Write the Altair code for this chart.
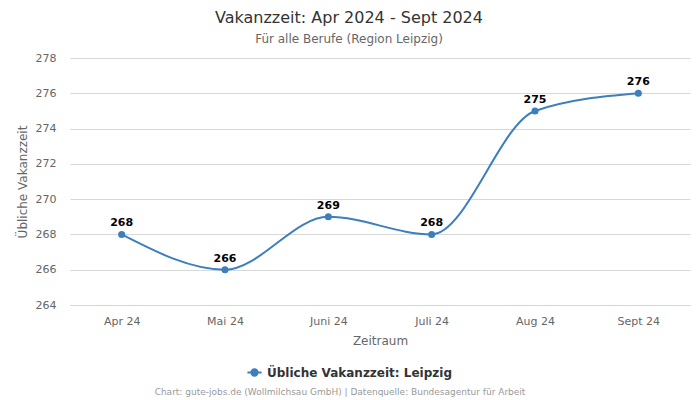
import altair as alt
import pandas as pd

months = ["Apr 24", "Mai 24", "Juni 24", "Juli 24", "Aug 24", "Sept 24"]
values = [268, 266, 269, 268, 275, 276]
series_name = "Übliche Vakanzzeit: Leipzig"
credit = "Chart: gute-jobs.de (Wollmilchsau GmbH) | Datenquelle: Bundesagentur für Arbeit"

FONT = "DejaVu Sans"
COLOR = "#3d7fbd"

df = pd.DataFrame({"Zeitraum": months, "Wert": values, "Serie": [series_name] * len(months)})

x = alt.X("Zeitraum:N", sort=months,
          scale=alt.Scale(type="point", padding=0.5),
          axis=alt.Axis(title="Zeitraum", labelAngle=0, labelFont=FONT, labelFontSize=11,
                        labelColor="#666666", titleFont=FONT, titleFontSize=12,
                        titleFontWeight="normal", titleColor="#666666", titlePadding=9,
                        domainColor="#ccd6eb", ticks=False, labelPadding=10, grid=False))
y = alt.Y("Wert:Q",
          scale=alt.Scale(domain=[264, 278], nice=False, zero=False),
          axis=alt.Axis(title="Übliche Vakanzzeit", values=list(range(264, 279, 2)),
                        labelFont=FONT, labelFontSize=11, labelColor="#666666",
                        titleFont=FONT, titleFontSize=12, titleFontWeight="normal",
                        titleColor="#666666", titlePadding=6, domain=False, ticks=False,
                        labelPadding=14, gridColor="#d8d8d8"))

base = alt.Chart(df)

line = base.mark_line(interpolate="monotone", strokeWidth=2).encode(
    x=x, y=y,
    color=alt.Color("Serie:N", scale=alt.Scale(range=[COLOR]),
                    legend=alt.Legend(title=None, orient="none", legendX=176, legendY=306,
                                      labelFont=FONT, labelFontSize=12, labelFontWeight="bold",
                                      labelColor="#333333", labelLimit=400,
                                      symbolType="M -1 0 L -0.45 0 M 0.45 0 L 1 0 M -0.45 0 A 0.45 0.45 0 1 0 0.45 0 A 0.45 0.45 0 1 0 -0.45 0",
                                      symbolSize=200, symbolStrokeWidth=2,
                                      symbolFillColor=COLOR, symbolStrokeColor=COLOR))
)
points = base.mark_point(filled=True, size=50, opacity=1, color=COLOR).encode(x=x, y=y)
labels = base.mark_text(dy=-11, font=FONT, fontSize=11, fontWeight="bold", color="#000000").encode(
    x=x, y=y, text="Wert:Q")

credit_text = alt.Chart(pd.DataFrame({"t": [credit]})).mark_text(
    font=FONT, fontSize=9, color="#999999", align="center"
).encode(x=alt.value(270), y=alt.value(334), text="t:N")

chart = alt.layer(line, points, labels, credit_text).properties(
    width=620, height=247,
    background="white",
    title=alt.TitleParams(text="Vakanzzeit: Apr 2024 - Sept 2024",
                          subtitle="Für alle Berufe (Region Leipzig)",
                          font=FONT, fontSize=16, fontWeight="normal", color="#333333",
                          subtitleFont=FONT, subtitleFontSize=12, subtitleColor="#666666",
                          subtitlePadding=8, anchor="middle", dx=-31, offset=7),
    autosize=alt.AutoSizeParams(type="none"),
    padding={"left": 70, "top": 58, "right": 10, "bottom": 95},
).configure_view(stroke=None)

chart.save("out.html", embed_options={"renderer": "svg", "actions": False})
